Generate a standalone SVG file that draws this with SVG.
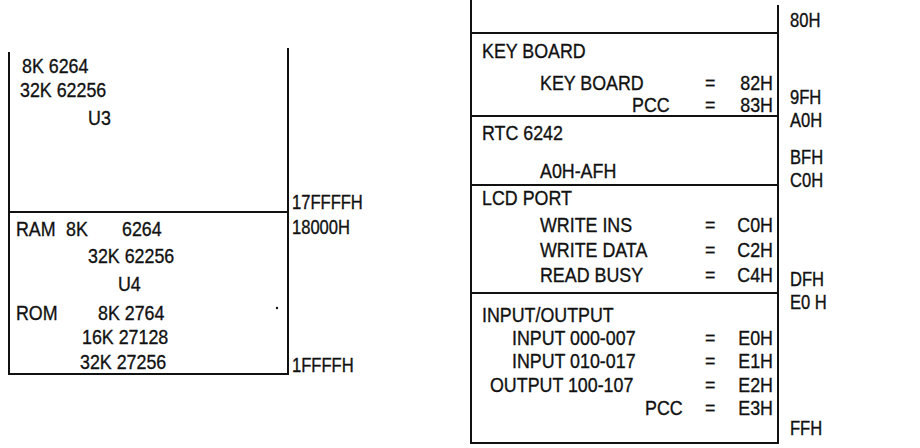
<svg xmlns="http://www.w3.org/2000/svg" width="920" height="448" viewBox="0 0 920 448">
<style>
text{font-family:"Liberation Sans",Arial,sans-serif;font-size:21px;fill:#111;stroke:#111;stroke-width:0.35}
.e{text-anchor:end}
.o{font-size:19.5px}
.ln{stroke:#111;stroke-width:2;fill:none}
</style>
<rect width="920" height="448" fill="#fff"/>
<g id="connectors"></g>
<g id="left-u3">
<path class="ln" d="M9 52V212M288 48V212M9 212H288"/>
<g transform="scale(0.85 1)">
<text x="25.88" y="73">8K  6264</text>
<text x="23.53" y="97">32K 62256</text>
<text x="103.53" y="125">U3</text>
<text class="o" x="343.53" y="209">17FFFFH</text>
</g>
</g>
<g id="left-u4">
<path class="ln" d="M9 212V374H288V212"/>
<circle cx="277" cy="308" r="1.2" fill="#111"/>
<g transform="scale(0.85 1)">
<text x="18.82" y="236">RAM</text>
<text x="77.65" y="236">8K</text>
<text x="143.53" y="236">6264</text>
<text x="103.53" y="263">32K 62256</text>
<text x="138.82" y="291">U4</text>
<text x="18.82" y="320">ROM</text>
<text x="115.29" y="320">8K 2764</text>
<text x="96.47" y="344">16K 27128</text>
<text x="94.12" y="369">32K 27256</text>
<text class="o" x="343.53" y="234">18000H</text>
<text class="o" x="343.53" y="372">1FFFFH</text>
</g>
</g>
<g id="right-top">
<path class="ln" d="M471 0V33M778 5V33M471 33H778"/>
<g transform="scale(0.85 1)">
<text class="o" x="929.41" y="27">80H</text>
</g>
</g>
<g id="keyboard">
<path class="ln" d="M471 33V116M778 33V116M471 116H778"/>
<g transform="scale(0.85 1)">
<text x="567.06" y="58">KEY BOARD</text>
<text x="635.29" y="90">KEY BOARD</text>
<text x="829.41" y="90">=</text>
<text class="e" x="909.41" y="90">82H</text>
<text x="743.53" y="112">PCC</text>
<text x="829.41" y="112">=</text>
<text class="e" x="909.41" y="112">83H</text>
<text class="o" x="929.41" y="104">9FH</text>
</g>
</g>
<g id="rtc">
<path class="ln" d="M471 116V185M778 116V185M471 185H778"/>
<g transform="scale(0.85 1)">
<text x="567.06" y="140">RTC  6242</text>
<text x="635.29" y="178">A0H-AFH</text>
<text class="o" x="929.41" y="127">A0H</text>
<text class="o" x="929.41" y="164">BFH</text>
</g>
</g>
<g id="lcd">
<path class="ln" d="M471 185V293M778 185V293M471 293H778"/>
<g transform="scale(0.85 1)">
<text x="567.06" y="205">LCD PORT</text>
<text x="635.29" y="232">WRITE  INS</text>
<text x="829.41" y="232">=</text>
<text class="e" x="909.41" y="232">C0H</text>
<text x="635.29" y="257">WRITE DATA</text>
<text x="829.41" y="257">=</text>
<text class="e" x="909.41" y="257">C2H</text>
<text x="635.29" y="282">READ  BUSY</text>
<text x="829.41" y="282">=</text>
<text class="e" x="909.41" y="282">C4H</text>
<text class="o" x="929.41" y="187">C0H</text>
<text class="o" x="929.41" y="286">DFH</text>
</g>
</g>
<g id="io">
<path class="ln" d="M471 293V443H778V293"/>
<g transform="scale(0.85 1)">
<text x="567.06" y="322">INPUT/OUTPUT</text>
<text x="602.35" y="345">INPUT 000-007</text>
<text x="829.41" y="345">=</text>
<text class="e" x="909.41" y="345">E0H</text>
<text x="602.35" y="368">INPUT 010-017</text>
<text x="829.41" y="368">=</text>
<text class="e" x="909.41" y="368">E1H</text>
<text x="576.47" y="392">OUTPUT 100-107</text>
<text x="829.41" y="392">=</text>
<text class="e" x="909.41" y="392">E2H</text>
<text x="758.82" y="415">PCC</text>
<text x="829.41" y="415">=</text>
<text class="e" x="909.41" y="415">E3H</text>
<text class="o" x="929.41" y="309">E0 H</text>
<text class="o" x="929.41" y="435">FFH</text>
</g>
</g>
</svg>
